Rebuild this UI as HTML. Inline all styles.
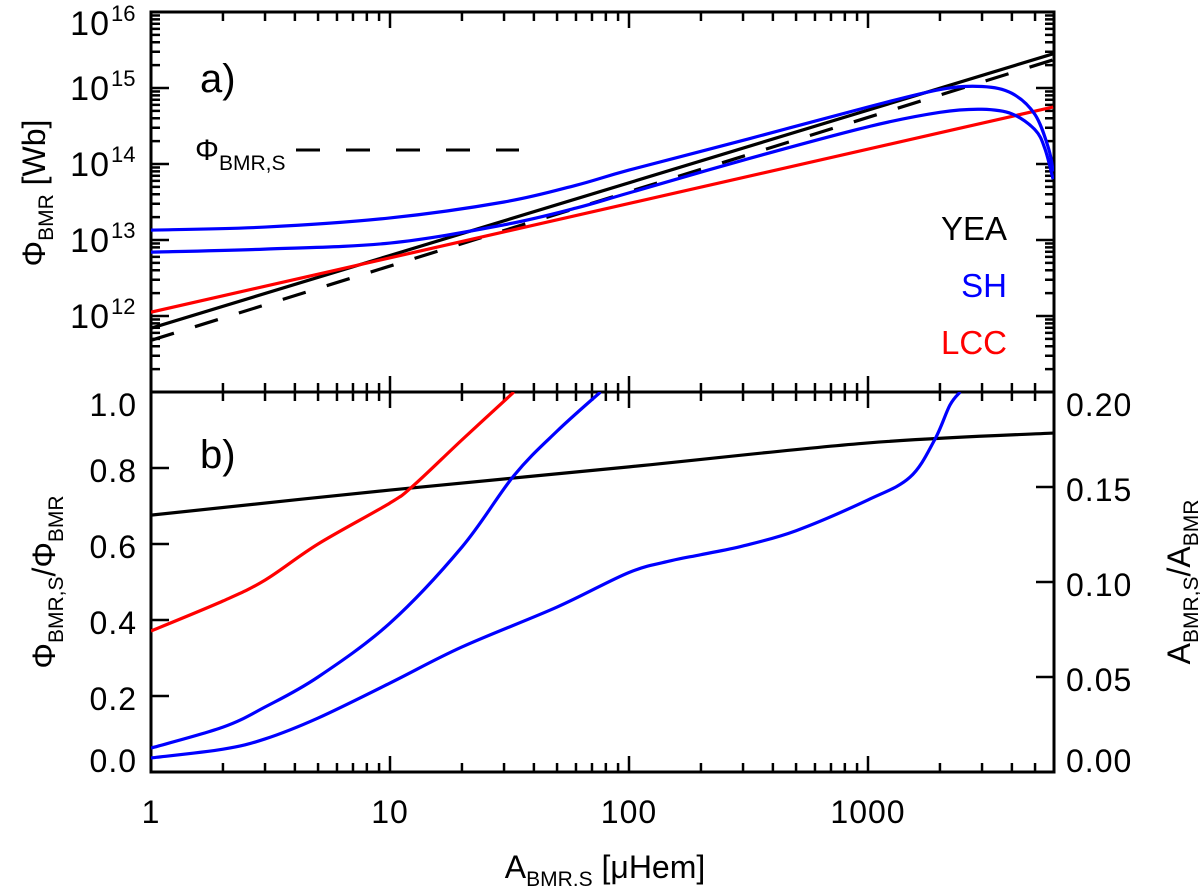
<!DOCTYPE html>
<html><head><meta charset="utf-8">
<style>
html,body{margin:0;padding:0;background:#fff;}
svg{display:block;font-family:"Liberation Sans","DejaVu Sans",sans-serif;}
</style></head>
<body>
<svg id="chart" width="1200" height="886" viewBox="0 0 1200 886" xmlns="http://www.w3.org/2000/svg">
<defs>
<clipPath id="clipA"><rect x="151" y="12" width="903" height="380"/></clipPath>
<clipPath id="clipB"><rect x="151" y="392" width="903" height="380"/></clipPath>
</defs>
<g id="axes"></g>
<g id="seriesA" clip-path="url(#clipA)"></g>
<g id="seriesB" clip-path="url(#clipB)"></g>
<g id="texts">
<text x="200" y="92" font-size="40">a)</text>
<text x="200" y="468" font-size="40">b)</text>
<text x="1007" y="240" font-size="33" text-anchor="end" fill="#000">YEA</text>
<text x="1007" y="297" font-size="33" text-anchor="end" fill="#0000ff">SH</text>
<text x="1007" y="354" font-size="33" text-anchor="end" fill="#ff0000">LCC</text>
<text x="195" y="160" font-size="30">Φ<tspan font-size="21" dy="10">BMR,S</tspan></text>
<line x1="296" y1="150" x2="519" y2="150" stroke="#000" stroke-width="3" stroke-dasharray="24,26"/>
<text x="605" y="878" font-size="32" text-anchor="middle">A<tspan font-size="21" dy="8">BMR,S</tspan><tspan dy="-8"> [μHem]</tspan></text>
<text transform="translate(45,193) rotate(-90)" font-size="32" text-anchor="middle">Φ<tspan font-size="21" dy="8">BMR</tspan><tspan dy="-8"> [Wb]</tspan></text>
<text transform="translate(55,582) rotate(-90)" font-size="32" text-anchor="middle">Φ<tspan font-size="21" dy="8">BMR,S</tspan><tspan dy="-8">/Φ</tspan><tspan font-size="21" dy="8">BMR</tspan></text>
<text transform="translate(1190,582) rotate(-90)" font-size="32" text-anchor="middle">A<tspan font-size="21" dy="8">BMR,S</tspan><tspan dy="-8">/A</tspan><tspan font-size="21" dy="8">BMR</tspan></text>
</g>
</svg>
<script>
// ---- data ----
const xTickLabels = ["1","10","100","1000"];
const xTickValues = [1,10,100,1000];
const topTickExps = [16,15,14,13,12];
const leftBTicks = [0.0,0.2,0.4,0.6,0.8,1.0];
const rightBTicks = ["0.00","0.05","0.10","0.15","0.20"];
// panel a: log10(flux) values
const yeaX = [1, 5950];
const yeaL = [11.84, 15.45];
const yeaDashX = [1, 5950];
const yeaDashL = [11.68, 15.37];
const lccX = [1, 5950];
const lccL = [12.05, 14.75];
const shUpX = [1,3,10,30,60,100,316,1000,2000,3000,4000,5000,5700,5950];
const shUpL = [13.13,13.17,13.29,13.50,13.72,13.92,14.33,14.75,14.98,15.02,14.93,14.65,14.2,13.9];
const shLoX = [1,3,10,30,60,100,316,1000,2000,3000,4000,5000,5500,5950];
const shLoL = [12.84,12.88,12.96,13.20,13.42,13.62,14.07,14.49,14.68,14.72,14.66,14.45,14.2,13.8];
// panel b: ratios
const bYeaX = [1,10,100,1000,5950];
const bYeaV = [0.676,0.742,0.803,0.866,0.892];
const bLccX = [1,2,3,5,10,12.6,20,33];
const bLccV = [0.371,0.45,0.505,0.60,0.708,0.755,0.874,1.0];
const bShAX = [1,2,3,5,10,20,33,50,76];
const bShAV = [0.063,0.118,0.171,0.25,0.392,0.592,0.78,0.897,1.0];
const bShBX = [1,2,3,5,10,20,50,100,150,200,300,500,1000,1500,1900,2200,2430];
const bShBV = [0.037,0.06,0.087,0.142,0.234,0.329,0.434,0.525,0.556,0.572,0.595,0.635,0.716,0.776,0.874,0.965,1.0];

// ---- axes functions ----
const X0=151, X1=1054, DEC=239;
const xp = x => X0 + DEC*Math.log10(x);
const ya = L => 12 + (16-L)*76;
const yb = v => 772 - 380*v;
const NS="http://www.w3.org/2000/svg";
function mk(tag, attrs, parent){const e=document.createElementNS(NS,tag);for(const k in attrs)e.setAttribute(k,attrs[k]);parent.appendChild(e);return e;}
const axes=document.getElementById('axes');

let f1=mk('rect',{x:X0,y:12,width:X1-X0,height:380,fill:'none',stroke:'#000','stroke-width':3},axes);


let f2=mk('rect',{x:X0,y:392,width:X1-X0,height:380,fill:'none',stroke:'#000','stroke-width':3},axes);



function tick(x1,y1,x2,y2,w){const t=mk('line',{x1,y1,x2,y2,stroke:'#000','stroke-width':w||2.5},axes);

}

for(let d=0; d<4; d++){
  for(let m=1;m<=9;m++){
    const x=Math.pow(10,d)*m; if(Math.log10(x)>3.776) continue;
    const px=xp(x), L=(m===1)?16:9;
    tick(px,12,px,12+L); tick(px,392,px,392-L); tick(px,392,px,392+L); tick(px,772,px,772-L);
  }
}
xTickValues.forEach((v,i)=>{const t=mk('text',{x:xp(v),y:823,'font-size':32,'text-anchor':'middle','letter-spacing':1},axes);t.textContent=xTickLabels[i];

});

for(let e=11;e<16;e++){for(let m=1;m<=9;m++){const L=e+Math.log10(m);const py=ya(L);const len=(m===1)?18:9;
 tick(X0,py,X0+len,py); tick(X1,py,X1-len,py);}}
topTickExps.forEach(e=>{const py=ya(e);const base=(e===16)?py+23:py+12;
 const t=mk('text',{x:110,y:base,'font-size':34,'text-anchor':'end','letter-spacing':1},axes);t.textContent='10';
 
 
 const s=mk('text',{x:111,y:base-14,'font-size':22},axes);s.textContent=String(e);
 
 });

leftBTicks.forEach(v=>{const py=yb(v);tick(X0,py,X0+18,py);
 const off=(v>=0.99)?24:(v<=0.01?0:14);
 const t=mk('text',{x:137,y:py+off,'font-size':32,'text-anchor':'end','letter-spacing':1},axes);t.textContent=v.toFixed(1);
 
 });
rightBTicks.forEach((lab,i)=>{const v=parseFloat(lab)/0.2;const py=yb(v);tick(X1,py,X1-18,py);
 const off=(v>=0.99)?24:(v<=0.01?0:14);
 const t=mk('text',{x:1066,y:py+off,'font-size':32,'letter-spacing':1},axes);t.textContent=lab;
 
 });

function smoothPath(pts){
 if(pts.length<3) return 'M'+pts.map(p=>p.join(',')).join(' L');
 let d='M'+pts[0][0]+','+pts[0][1];
 for(let i=0;i<pts.length-1;i++){
  const p0=pts[Math.max(0,i-1)],p1=pts[i],p2=pts[i+1],p3=pts[Math.min(pts.length-1,i+2)];
  const c1=[p1[0]+(p2[0]-p0[0])/6,p1[1]+(p2[1]-p0[1])/6];
  const c2=[p2[0]-(p3[0]-p1[0])/6,p2[1]-(p3[1]-p1[1])/6];
  d+=' C'+c1[0]+','+c1[1]+' '+c2[0]+','+c2[1]+' '+p2[0]+','+p2[1];
 }
 return d;
}
const gA=document.getElementById('seriesA'), gB=document.getElementById('seriesB');
function series(g,xs,vs,yf,color,name,dash,smooth){
 const pts=xs.map((x,i)=>[xp(x),yf(vs[i])]);
 const attrs={d:smooth?smoothPath(pts):'M'+pts.map(p=>p.join(',')).join(' L'),fill:'none',stroke:color,'stroke-width':3.2,'stroke-linejoin':'round'};
 if(dash) attrs['stroke-dasharray']=dash;
 const p=mk('path',attrs,g);
 
 
}
series(gA,yeaDashX,yeaDashL,ya,'#000','yea-dashed-line','24,22',false);
series(gA,yeaX,yeaL,ya,'#000','yea-line',null,false);
series(gA,lccX,lccL,ya,'#ff0000','lcc-line',null,false);
series(gA,shUpX,shUpL,ya,'#0000ff','sh-upper-line',null,true);
series(gA,shLoX,shLoL,ya,'#0000ff','sh-lower-line',null,true);

series(gB,bYeaX,bYeaV,yb,'#000','yea-ratio-line',null,true);
series(gB,bLccX,bLccV,yb,'#ff0000','lcc-ratio-line',null,true);
series(gB,bShAX,bShAV,yb,'#0000ff','sh-ratio-line-a',null,true);
series(gB,bShBX,bShBV,yb,'#0000ff','sh-ratio-line-b',null,true);
</script>
</body></html>
